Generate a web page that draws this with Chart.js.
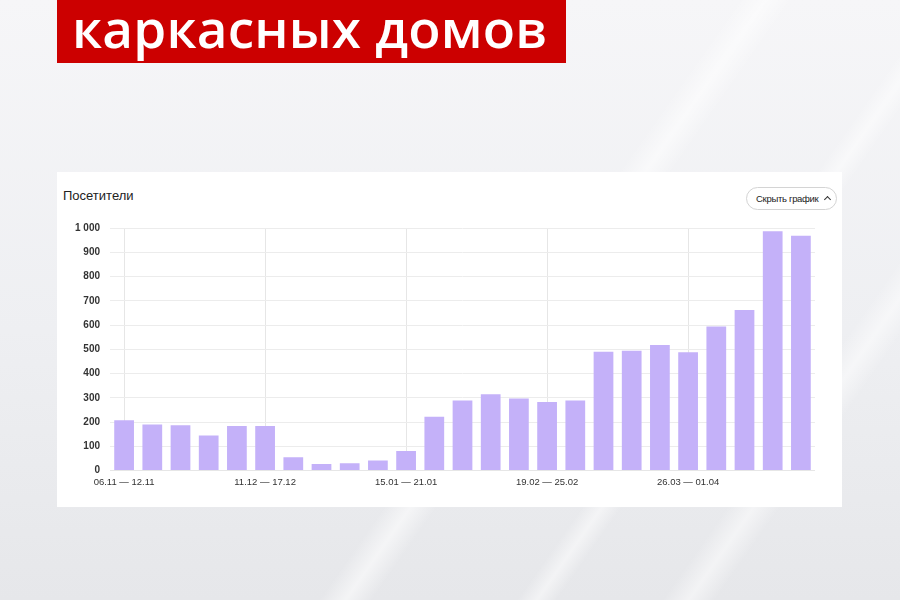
<!DOCTYPE html>
<html>
<head>
<meta charset="utf-8">
<script src="https://cdn.jsdelivr.net/npm/chart.js@4"></script>
<style>
  html, body { margin: 0; padding: 0; }
  body {
    width: 900px; height: 600px; overflow: hidden; position: relative;
    background:
      linear-gradient(125deg, rgba(255,255,255,0) 56%, rgba(255,255,255,0.55) 58%, rgba(255,255,255,0) 60%),
      linear-gradient(125deg, rgba(255,255,255,0) 71%, rgba(255,255,255,0.5) 72.5%, rgba(255,255,255,0) 74%),
      linear-gradient(125deg, rgba(255,255,255,0) 82%, rgba(255,255,255,0.5) 84%, rgba(255,255,255,0) 86%),
      linear-gradient(180deg, #f6f6f8 0%, #eeeff2 55%, #e6e7ea 100%);
    font-family: "Liberation Sans", Arial, sans-serif;
  }
  #banner {
    position: absolute; left: 57px; top: 0; width: 509px; height: 63px;
    background: #cc0000;
  }
  #banner span {
    position: absolute; left: 15px; top: -9px;
    font-family: "Open Sans", sans-serif; font-weight: 600; font-size: 53px;
    color: #fff; white-space: nowrap; letter-spacing: 0.2px;
  }
  #card {
    position: absolute; left: 57px; top: 172px; width: 785px; height: 335px;
    background: #fff;
  }
  #title {
    position: absolute; left: 6px; top: 16px; font-size: 13px; color: #222;
  }
  #btn {
    position: absolute; left: 689px; top: 15px; width: 89px; height: 21px;
    border: 1px solid #d4d4d4; border-radius: 12px; font-size: 9.5px; color: #222;
    line-height: 21px; box-sizing: content-box;
  }
  #btn .t { position: absolute; left: 9px; top: 0; letter-spacing: -0.3px; }
  #btn .c {
    position: absolute; left: 78px; top: 9px; width: 4px; height: 4px;
    border-left: 1.3px solid #333; border-top: 1.3px solid #333; transform: rotate(45deg);
  }
  #wrap { position: absolute; left: 8px; top: 40px; width: 750px; height: 282px; }
</style>
</head>
<body>
<div id="banner"><span>каркасных домов</span></div>
<div id="card">
  <div id="title">Посетители</div>
  <div id="btn"><span class="t">Скрыть график</span><span class="c"></span></div>
  <div id="wrap"><canvas id="chart"></canvas></div>
</div>
<script>
const weeks = [
  '06.11 — 12.11', '13.11 — 19.11', '20.11 — 26.11', '27.11 — 03.12', '04.12 — 10.12',
  '11.12 — 17.12', '18.12 — 24.12', '25.12 — 31.12', '01.01 — 07.01', '08.01 — 14.01',
  '15.01 — 21.01', '22.01 — 28.01', '29.01 — 04.02', '05.02 — 11.02', '12.02 — 18.02',
  '19.02 — 25.02', '26.02 — 03.03', '04.03 — 10.03', '11.03 — 17.03', '18.03 — 24.03',
  '26.03 — 01.04', '02.04 — 08.04', '09.04 — 15.04', '16.04 — 22.04', '23.04 — 29.04'
];
const visitors = [208, 190, 187, 145, 184, 184, 55, 27, 30, 42, 81, 222, 289, 315, 297, 283, 289, 490, 494, 518, 488, 594, 662, 987, 968];
const yTicks = [0, 100, 200, 300, 400, 500, 600, 700, 800, 900, 1000];

const ctx = document.getElementById('chart').getContext('2d');
new Chart(ctx, {
  type: 'bar',
  data: {
    labels: weeks,
    datasets: [{
      label: 'Посетители',
      data: visitors,
      backgroundColor: '#c4b1f9',
      barPercentage: 0.7,
      categoryPercentage: 1
    }]
  },
  options: {
    responsive: true,
    maintainAspectRatio: false,
    animation: false,
    plugins: { legend: { display: false }, tooltip: { enabled: false } },
    layout: { padding: { top: 4, right: 0, left: 0, bottom: 0 } },
    scales: {
      x: {
        grid: {
          offset: false,
          drawTicks: false,
          color: c => (c.index % 5 === 0 ? '#e6e6e6' : 'rgba(0,0,0,0)')
        },
        border: { color: '#e6e6e6' },
        ticks: {
          autoSkip: false,
          maxRotation: 0,
          padding: 6,
          color: '#333',
          font: { family: 'Liberation Sans', size: 9.5 },
          callback: (v, i) => (i % 5 === 0 ? weeks[i] : '')
        }
      },
      y: {
        min: 0,
        max: 1000,
        afterBuildTicks: axis => { axis.ticks = yTicks.map(v => ({ value: v })); },
        afterFit: axis => { axis.width = 45; },
        grid: { color: '#ececec', drawTicks: false },
        border: { display: false },
        ticks: {
          padding: 10,
          color: '#333',
          font: { family: 'Liberation Sans', size: 10, weight: 'bold' },
          callback: v => (v >= 1000 ? '1 000' : String(v))
        }
      }
    }
  }
});
</script>
</body>
</html>
